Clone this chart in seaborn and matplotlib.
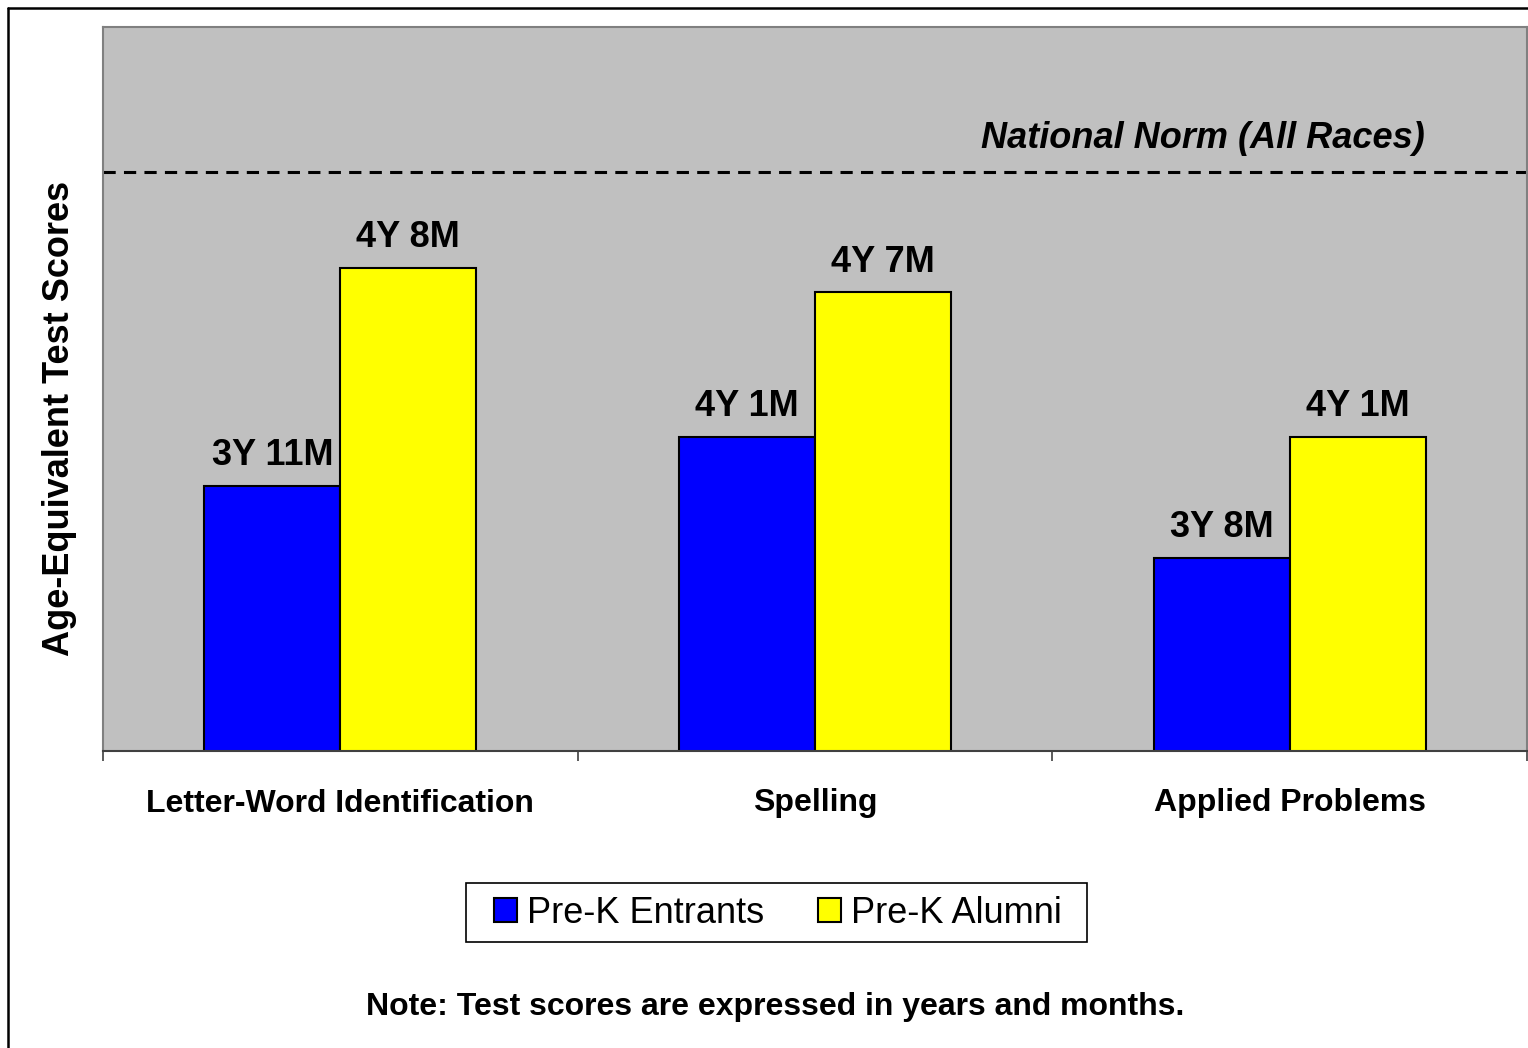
import pandas as pd
import matplotlib.pyplot as plt
import seaborn as sns
from matplotlib.lines import Line2D
from matplotlib.patches import Rectangle

# Data (scores in months)
tests = ['Letter-Word Identification', 'Spelling', 'Applied Problems']
groups = ['Pre-K Entrants', 'Pre-K Alumni']
entrants = [47, 49, 44]
alumni = [56, 55, 49]
entrants_labels = ['3Y 11M', '4Y 1M', '3Y 8M']
alumni_labels = ['4Y 8M', '4Y 7M', '4Y 1M']
national_norm = 60
colors = ['#0000FF', '#FFFF00']

# Build long table
df = pd.DataFrame({
    'test': tests * 2,
    'group': [groups[0]] * 3 + [groups[1]] * 3,
    'months': entrants + alumni,
})

sns.set_style('white')
plt.rcParams['font.family'] = ['Liberation Sans', 'DejaVu Sans']
plt.rcParams['text.color'] = 'black'
plt.rcParams['axes.labelcolor'] = 'black'
plt.rcParams['xtick.color'] = 'black'

fig = plt.figure(figsize=(15.28, 10.48), dpi=100)
ax = fig.add_axes([103 / 1528, 1 - 751 / 1048, 1424 / 1528, 724 / 1048])
ax.set_facecolor('#C0C0C0')

sns.barplot(data=df, x='test', y='months', hue='group', palette=colors,
            width=0.573, gap=0, edgecolor='black', linewidth=1.5,
            saturation=1, ax=ax)
ax.get_legend().remove()

ax.set_xlim(-0.5, 2.5)
ax.set_ylim(36, 66)

# Value labels above bars
for container, labels in zip(ax.containers, [entrants_labels, alumni_labels]):
    for bar, lab in zip(container, labels):
        ax.annotate(lab, (bar.get_x() + bar.get_width() / 2, bar.get_height()),
                    xytext=(0, 15), textcoords='offset points',
                    ha='center', va='baseline', fontsize=26, fontweight='bold')

# National norm line
ax.axhline(national_norm, color='black', linestyle=(0, (4, 2.7)), linewidth=2.2)
ax.text(2.285, 61.0, 'National Norm (All Races)', ha='right', va='baseline',
        fontsize=26, fontweight='bold', style='italic')

# Axes styling
ax.set_yticks([])
ax.set_ylabel('Age-Equivalent Test Scores', fontsize=26, fontweight='bold')
ax.yaxis.set_label_coords(-0.0185, 0.46)
ax.set_xlabel('')
ax.set_xticks(range(3))
ax.set_xticklabels(tests, fontsize=23, fontweight='bold')
ax.tick_params(axis='x', which='major', length=0, pad=27)
ax.set_xticks([-0.5, 0.5, 1.5, 2.5], minor=True)
ax.tick_params(axis='x', which='minor', bottom=True, length=7, width=1.2,
               color='#404040', direction='out')
for side in ['left', 'top', 'right']:
    ax.spines[side].set_color('#808080')
    ax.spines[side].set_linewidth(1.5)
ax.spines['bottom'].set_color('#404040')
ax.spines['bottom'].set_linewidth(1.5)

# Legend (frame drawn separately to get the wide margins)
handles = [plt.Rectangle((0, 0), 1, 1, facecolor=c, edgecolor='black', linewidth=1.5)
           for c in colors]
fig.legend(handles, groups, loc='center', bbox_to_anchor=(778 / 1528, 1 - 913 / 1048),
           ncol=2, fontsize=26, frameon=False,
           handlelength=0.64, handleheight=0.64, handletextpad=0.28,
           columnspacing=1.5, borderpad=0.3)
fig.add_artist(Rectangle((466 / 1528, 1 - 942 / 1048), 621 / 1528, 59 / 1048,
                         transform=fig.transFigure, fill=False,
                         edgecolor='black', linewidth=1.2))

# Note
fig.text(775 / 1528, 1 - 1007 / 1048, 'Note: Test scores are expressed in years and months.',
         ha='center', va='center', fontsize=23, fontweight='bold')

# Outer border (left and top)
fig.add_artist(Line2D([7.5 / 1528, 7.5 / 1528], [0, 1 - 8 / 1048], color='black', linewidth=1.8))
fig.add_artist(Line2D([7.5 / 1528, 1], [1 - 8 / 1048, 1 - 8 / 1048], color='black', linewidth=1.8))

fig.savefig('out.png', dpi=100)
